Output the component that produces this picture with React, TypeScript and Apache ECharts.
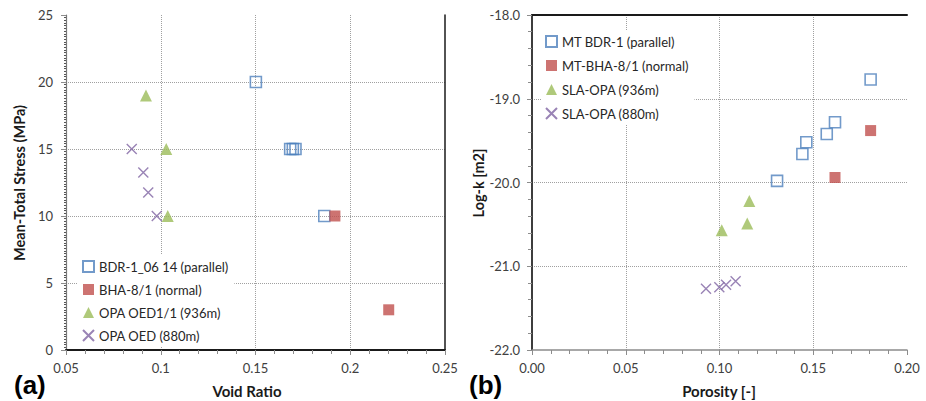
import React, { useEffect, useRef } from "react";
import * as echarts from "echarts";

// ---- Panel (a): Void ratio vs mean-total stress ----
const aBdrParallel: [number, number][] = [
  [0.1502, 20],
  [0.1683, 15],
  [0.1697, 15],
  [0.1711, 15],
  [0.1863, 10],
];
const aBhaNormal: [number, number][] = [
  [0.1919, 10],
  [0.2203, 3],
];
const aOed936: [number, number][] = [
  [0.0922, 19],
  [0.1029, 15],
  [0.1037, 10],
];
const aOed880: [number, number][] = [
  [0.0847, 15],
  [0.0908, 13.25],
  [0.0934, 11.75],
  [0.0979, 10],
];
const aNames = [
  "BDR-1_06 14 (parallel)",
  "BHA-8/1 (normal)",
  "OPA OED1/1 (936m)",
  "OPA OED (880m)",
];

// ---- Panel (b): Porosity vs log-k ----
const bBdrParallel: [number, number][] = [
  [0.1806, -18.77],
  [0.1616, -19.28],
  [0.1572, -19.42],
  [0.1463, -19.52],
  [0.1442, -19.66],
  [0.1307, -19.98],
];
const bBhaNormal: [number, number][] = [
  [0.1806, -19.38],
  [0.1616, -19.94],
];
const bOpa936: [number, number][] = [
  [0.1012, -20.57],
  [0.1159, -20.22],
  [0.1148, -20.49],
];
const bOpa880: [number, number][] = [
  [0.0928, -21.27],
  [0.0999, -21.25],
  [0.1035, -21.22],
  [0.1086, -21.18],
];
const bNames = [
  "MT BDR-1 (parallel)",
  "MT-BHA-8/1 (normal)",
  "SLA-OPA (936m)",
  "SLA-OPA (880m)",
];

const BLUE = "#4F81BD";
const RED = "#C0504D";
const GREEN = "#9BBB59";
const PURPLE = "#8064A2";
const FONT = "Lato, 'Open Sans', sans-serif";
const CROSS = "path://M0,0L10,10M10,0L0,10";

function styleFor(kind: number) {
  if (kind === 0)
    return {
      symbol: "rect",
      symbolSize: 11,
      itemStyle: { color: "rgba(255,255,255,0)", borderColor: BLUE, borderWidth: 1.6 },
    };
  if (kind === 1)
    return { symbol: "rect", symbolSize: 11, itemStyle: { color: RED, borderColor: RED, borderWidth: 0 } };
  if (kind === 2)
    return { symbol: "triangle", symbolSize: 12, itemStyle: { color: GREEN, borderColor: GREEN, borderWidth: 0 } };
  return {
    symbol: CROSS,
    symbolSize: 10,
    itemStyle: { color: "rgba(255,255,255,0)", borderColor: PURPLE, borderWidth: 1.4 },
  };
}

function mkSeries(name: string, data: [number, number][], kind: number, idx: number) {
  return {
    type: "scatter",
    name,
    data,
    xAxisIndex: idx,
    yAxisIndex: idx,
    silent: true,
    z: 5,
    ...styleFor(kind),
  };
}

const tickLabel = { fontFamily: FONT, fontSize: 13, color: "#404040" };
const dotted = { show: true, showMinLine: false, showMaxLine: false, lineStyle: { type: "dotted", color: "#a0a0a0", width: 1 } };
const axisGray = { lineStyle: { color: "#8c8c8c", width: 1.5 } };
const tickGray = { show: true, length: 5, lineStyle: { color: "#8c8c8c" } };

export default function App() {
  const ref = useRef<HTMLDivElement>(null);
  useEffect(() => {
    document.body.style.margin = "0";
    if (!ref.current) return;
    const chart = echarts.init(ref.current, undefined, { renderer: "svg" });
    const legendBase = {
      orient: "vertical",
      itemWidth: 11,
      itemHeight: 11,
      backgroundColor: "#fff",
      z: 4,
      textStyle: { fontFamily: FONT, fontSize: 13, color: "#262626" },
      selectedMode: false,
    };
    chart.setOption({
      animation: false,
      grid: [
        { left: 66, top: 15, width: 379, height: 335, show: false },
        { left: 532, top: 15, width: 375, height: 335, show: false },
      ],
      xAxis: [
        {
          gridIndex: 0,
          type: "value",
          min: 0.05,
          max: 0.25,
          interval: 0.05,
          axisLine: axisGray,
          axisTick: tickGray,
          minorTick: { show: true, splitNumber: 5, length: 4, lineStyle: { color: "#8c8c8c" } },
          axisLabel: { ...tickLabel, margin: 11, formatter: (v: number) => String(+v.toFixed(2)) },
          splitLine: dotted,
        },
        {
          gridIndex: 1,
          type: "value",
          min: 0,
          max: 0.2,
          interval: 0.05,
          axisLine: axisGray,
          axisTick: tickGray,
          minorTick: { show: true, splitNumber: 5, length: 4, lineStyle: { color: "#8c8c8c" } },
          axisLabel: { ...tickLabel, margin: 11, formatter: (v: number) => v.toFixed(2) },
          splitLine: dotted,
        },
        // top borders
        { gridIndex: 0, type: "value", position: "top", min: 0, max: 1, axisLine: { lineStyle: { color: "#1a1a1a", width: 2 } }, axisTick: { show: false }, axisLabel: { show: false }, splitLine: { show: false } },
        { gridIndex: 1, type: "value", position: "top", min: 0, max: 1, axisLine: { lineStyle: { color: "#1a1a1a", width: 2 } }, axisTick: { show: false }, axisLabel: { show: false }, splitLine: { show: false } },
      ],
      yAxis: [
        {
          gridIndex: 0,
          type: "value",
          min: 0,
          max: 25,
          interval: 5,
          axisLine: { lineStyle: { color: "#777", width: 1.2 } },
          axisTick: tickGray,
          minorTick: { show: true, splitNumber: 25, length: 2, lineStyle: { color: "#555" } },
          axisLabel: { ...tickLabel, margin: 13 },
          splitLine: dotted,
        },
        {
          gridIndex: 1,
          type: "value",
          min: -22,
          max: -18,
          interval: 1,
          axisLine: axisGray,
          axisTick: tickGray,
          minorTick: { show: true, splitNumber: 5, length: 4, lineStyle: { color: "#8c8c8c" } },
          axisLabel: { ...tickLabel, margin: 12, formatter: (v: number) => v.toFixed(1) },
          splitLine: dotted,
        },
        // right borders
        { gridIndex: 0, type: "value", position: "right", min: 0, max: 1, axisLine: { lineStyle: { color: "#1a1a1a", width: 1.5 } }, axisTick: { show: false }, axisLabel: { show: false }, splitLine: { show: false } },
        { gridIndex: 1, type: "value", position: "right", min: 0, max: 1, axisLine: { lineStyle: { color: "#1a1a1a", width: 1.5 } }, axisTick: { show: false }, axisLabel: { show: false }, splitLine: { show: false } },
      ],
      legend: [
        { ...legendBase, data: aNames, left: 78, top: 255, padding: [5, 6, 5, 4], itemGap: 10 },
        { ...legendBase, data: bNames, left: 541, top: 30, padding: [5, 6, 5, 4], itemGap: 11 },
      ],
      series: [
        mkSeries(aNames[0], aBdrParallel, 0, 0),
        mkSeries(aNames[1], aBhaNormal, 1, 0),
        mkSeries(aNames[2], aOed936, 2, 0),
        mkSeries(aNames[3], aOed880, 3, 0),
        mkSeries(bNames[0], bBdrParallel, 0, 1),
        mkSeries(bNames[1], bBhaNormal, 1, 1),
        mkSeries(bNames[2], bOpa936, 2, 1),
        mkSeries(bNames[3], bOpa880, 3, 1),
      ],
      graphic: [
        {
          type: "text",
          x: 19,
          y: 183,
          rotation: Math.PI / 2,
          style: { text: "Mean-Total Stress (MPa)", font: `bold 14.5px ${FONT}`, fill: "#1a1a1a", align: "center", verticalAlign: "middle" },
        },
        {
          type: "text",
          x: 247,
          y: 391,
          style: { text: "Void Ratio", font: `bold 15px ${FONT}`, fill: "#1a1a1a", align: "center", verticalAlign: "middle" },
        },
        {
          type: "text",
          x: 478,
          y: 183,
          rotation: Math.PI / 2,
          style: { text: "Log-k [m2]", font: `bold 14.5px ${FONT}`, fill: "#1a1a1a", align: "center", verticalAlign: "middle" },
        },
        {
          type: "text",
          x: 719,
          y: 391,
          style: { text: "Porosity [-]", font: `bold 15px ${FONT}`, fill: "#1a1a1a", align: "center", verticalAlign: "middle" },
        },
        {
          type: "text",
          x: 14,
          y: 385,
          style: { text: "(a)", font: "bold 26px 'Liberation Sans', Arial, sans-serif", fill: "#000", align: "left", verticalAlign: "middle" },
        },
        {
          type: "text",
          x: 469,
          y: 385,
          style: { text: "(b)", font: "bold 26px 'Liberation Sans', Arial, sans-serif", fill: "#000", align: "left", verticalAlign: "middle" },
        },
      ],
    });
    return () => chart.dispose();
  }, []);
  return <div ref={ref} style={{ width: 926, height: 401 }} />;
}
